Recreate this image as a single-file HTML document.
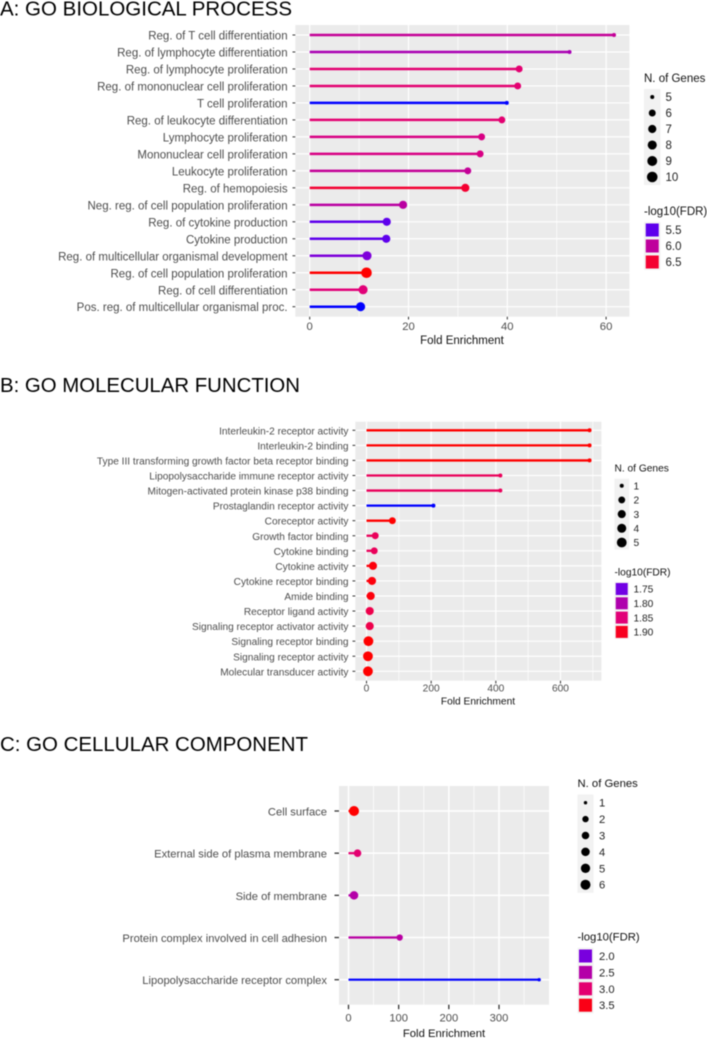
<!DOCTYPE html>
<html>
<head>
<meta charset="utf-8">
<title>GO enrichment lollipop charts</title>
<style>
html,body{margin:0;padding:0;background:#fff;}
body{width:707px;height:1039px;overflow:hidden;}
svg{display:block;filter:blur(0.45px);}
text{font-family:"Liberation Sans",sans-serif;}
</style>
</head>
<body>
<svg id="figure" width="707" height="1039" viewBox="0 0 707 1039" xmlns="http://www.w3.org/2000/svg">
<text x="0" y="15.5" font-size="20" fill="#000" textLength="292" lengthAdjust="spacingAndGlyphs">A: GO BIOLOGICAL PROCESS</text>
<text x="0" y="391.8" font-size="20" fill="#000" textLength="300" lengthAdjust="spacingAndGlyphs">B: GO MOLECULAR FUNCTION</text>
<text x="0" y="751" font-size="20" fill="#000" textLength="308" lengthAdjust="spacingAndGlyphs">C: GO CELLULAR COMPONENT</text>
</svg>
<script>
// Panel A data
const aCategories = ["Reg. of T cell differentiation","Reg. of lymphocyte differentiation","Reg. of lymphocyte proliferation","Reg. of mononuclear cell proliferation","T cell proliferation","Reg. of leukocyte differentiation","Lymphocyte proliferation","Mononuclear cell proliferation","Leukocyte proliferation","Reg. of hemopoiesis","Neg. reg. of cell population proliferation","Reg. of cytokine production","Cytokine production","Reg. of multicellular organismal development","Reg. of cell population proliferation","Reg. of cell differentiation","Pos. reg. of multicellular organismal proc."];
const aEnrichment = [61.6,52.6,42.4,42.1,39.9,38.9,34.8,34.5,32.0,31.5,18.9,15.6,15.5,11.6,11.5,10.8,10.3];
const aGenes = [5,5,6,6,5,6,6,6,6,7,7,7,7,8,10,8,8];
const aFdr = [6.03,5.85,6.25,6.25,5.3,6.25,6.15,6.15,6.03,6.5,5.97,5.5,5.5,5.62,6.65,6.22,5.3];
const aXTicks = [0,20,40,60];
const aXMinor = [10,30,50];
const aSizeLegend = [5,6,7,8,9,10];
const aColorLegend = ["5.5","6.0","6.5"];

// Panel B data
const bCategories = ["Interleukin-2 receptor activity","Interleukin-2 binding","Type III transforming growth factor beta receptor binding","Lipopolysaccharide immune receptor activity","Mitogen-activated protein kinase p38 binding","Prostaglandin receptor activity","Coreceptor activity","Growth factor binding","Cytokine binding","Cytokine activity","Cytokine receptor binding","Amide binding","Receptor ligand activity","Signaling receptor activator activity","Signaling receptor binding","Signaling receptor activity","Molecular transducer activity"];
const bEnrichment = [690,690,690,414,414,207,80,27,24,20,17,13,10,10,6,4.5,4.5];
const bGenes = [1,1,1,1,1,1,2,2,2,3,3,3,3,3,5,5,5];
const bFdr = [1.92,1.92,1.92,1.87,1.87,1.71,1.92,1.87,1.87,1.91,1.91,1.91,1.88,1.88,1.92,1.92,1.92];
const bXTicks = [0,200,400,600];
const bXMinor = [100,300,500,700];
const bSizeLegend = [1,2,3,4,5];
const bColorLegend = ["1.75","1.80","1.85","1.90"];

// Panel C data
const cCategories = ["Cell surface","External side of plasma membrane","Side of membrane","Protein complex involved in cell adhesion","Lipopolysaccharide receptor complex"];
const cEnrichment = [11,18,11,102,380];
const cGenes = [6,3,4,2,1];
const cFdr = [3.6,3.0,2.5,2.55,1.55];
const cXTicks = [0,100,200,300];
const cXMinor = [50,150,250,350];
const cSizeLegend = [1,2,3,4,5,6];
const cColorLegend = ["2.0","2.5","3.0","3.5"];

const NS = "http://www.w3.org/2000/svg";
const svg = document.getElementById("figure");
const rampColors = ["#0000ff","#6a00ea","#9a00c4","#bb00a0","#e0007c","#ee004a","#ff0000"];

function hexRgb(h){return [1,3,5].map(i=>parseInt(h.substr(i,2),16));}
function ramp(t){
  t=Math.max(0,Math.min(1,t));
  const p=t*(rampColors.length-1),i=Math.min(Math.floor(p),rampColors.length-2),f=p-i;
  const a=hexRgb(rampColors[i]),b=hexRgb(rampColors[i+1]);
  return "rgb("+a.map((v,k)=>Math.round(v+(b[k]-v)*f)).join(",")+")";
}
function add(parent,tag,attrs,txt){
  const e=document.createElementNS(NS,tag);
  for(const k in attrs)e.setAttribute(k,attrs[k]);
  if(txt!==undefined)e.textContent=txt;
  parent.appendChild(e);
  return e;
}
function slug(s){return s.toLowerCase().replace(/[^a-z0-9]+/g,"-").replace(/^-|-$/g,"");}

function drawPanel(cfg){
  const g=add(svg,"g",{});
  
  
  const x=v=>cfg.x0+v*cfg.xScale;
  const n=cfg.categories.length;
  const y=i=>cfg.rowTop+i*(cfg.rowBottom-cfg.rowTop)/(n-1);
  const col=v=>ramp((v-cfg.fdrMin)/(cfg.fdrMax-cfg.fdrMin));
  const gMin=cfg.sizeLegend[0],gMax=cfg.sizeLegend[cfg.sizeLegend.length-1];
  const rad=v=>cfg.rMin+(cfg.rMax-cfg.rMin)*Math.sqrt((v-gMin)/(gMax-gMin));

  const bg=add(g,"rect",{x:cfg.left,y:cfg.top,width:cfg.right-cfg.left,height:cfg.bottom-cfg.top,fill:"#ebebeb"});
  
  

  cfg.xMinor.forEach(v=>{
    const l=add(g,"line",{x1:x(v),x2:x(v),y1:cfg.top,y2:cfg.bottom,stroke:"#fff","stroke-width":0.7});
    
    
  });
  cfg.xTicks.forEach(v=>{
    const l=add(g,"line",{x1:x(v),x2:x(v),y1:cfg.top,y2:cfg.bottom,stroke:"#fff","stroke-width":cfg.grid});
    
    
    const t=add(g,"line",{x1:x(v),x2:x(v),y1:cfg.bottom,y2:cfg.bottom+cfg.tickLen,stroke:"#333","stroke-width":cfg.tickW});
    
    
    const lab=add(g,"text",{x:x(v),y:cfg.tickY,"text-anchor":"middle","font-size":cfg.tickFont,fill:"#4d4d4d"},String(v));
    
    
  });
  cfg.categories.forEach((c,i)=>{
    const gl=add(g,"line",{x1:cfg.left,x2:cfg.right,y1:y(i),y2:y(i),stroke:"#fff","stroke-width":cfg.grid});
    
    
    const t=add(g,"line",{x1:cfg.left-cfg.tickLen,x2:cfg.left,y1:y(i),y2:y(i),stroke:"#333","stroke-width":cfg.tickW});
    
    
    const lab=add(g,"text",{x:cfg.labelRight,y:y(i)+cfg.labelFont*0.36+0.4,"text-anchor":"end","font-size":cfg.labelFont,fill:"#4d4d4d"},c);
    
    
  });
  cfg.categories.forEach((c,i)=>{
    const color=col(cfg.fdr[i]);
    const stem=add(g,"line",{x1:x(0),x2:x(cfg.values[i]),y1:y(i),y2:y(i),stroke:color,"stroke-width":cfg.stem});
    
    
    const dot=add(g,"circle",{cx:x(cfg.values[i]),cy:y(i),r:rad(cfg.genes[i]),fill:color});
    
    
  });

  const axisTitle=add(g,"text",{x:cfg.axisTitleX,y:cfg.axisTitleY,"text-anchor":"middle","font-size":cfg.axisFont,fill:"#111"},"Fold Enrichment");
  
  

  // Size legend
  const L=cfg.legend;
  const st=add(g,"text",{x:L.x,y:L.sizeTitleY,"font-size":cfg.axisFont,fill:"#111"},"N. of Genes");
  
  
  const sizeStep=L.sizeStep;
  const sb=add(g,"rect",{x:L.x,y:L.sizeY-sizeStep/2,width:L.key,height:sizeStep*cfg.sizeLegend.length,fill:"#f2f2f2"});
  
  
  cfg.sizeLegend.forEach((v,i)=>{
    const cy=L.sizeY+i*sizeStep;
    const d=add(g,"circle",{cx:L.x+L.key/2,cy:cy,r:rad(v),fill:"#000"});
    
    
    const t=add(g,"text",{x:L.labelX,y:cy+cfg.legendFont*0.36,"font-size":cfg.legendFont,fill:"#222"},String(v));
    
    
  });

  // Colour legend
  const ct=add(g,"text",{x:L.x,y:L.colorTitleY,"font-size":cfg.axisFont,fill:"#111"},"-log10(FDR)");
  
  
  const colorStep=L.colorStep;
  const cb=add(g,"rect",{x:L.x,y:L.colorY-colorStep/2,width:L.key,height:colorStep*cfg.colorLegend.length,fill:"#f2f2f2"});
  
  
  cfg.colorLegend.forEach((v,i)=>{
    const cy=L.colorY+i*colorStep;
    const s=L.swatch;
    const r=add(g,"rect",{x:L.x+L.key/2-s/2,y:cy-s/2,width:s,height:s,fill:col(parseFloat(v))});
    
    
    const t=add(g,"text",{x:L.labelX,y:cy+cfg.legendFont*0.36,"font-size":cfg.legendFont,fill:"#222"},v);
    
    
  });
}

drawPanel({id:"panel-a",categories:aCategories,values:aEnrichment,genes:aGenes,fdr:aFdr,xTicks:aXTicks,xMinor:aXMinor,sizeLegend:aSizeLegend,colorLegend:aColorLegend,
  left:295.3,right:629.4,top:25,bottom:316.7,rowTop:35,rowBottom:306.7,x0:309.7,xScale:4.94,fdrMin:5.3,fdrMax:6.65,rMin:2,rMax:5.3,stem:2.5,grid:1.2,tickLen:2.8,tickW:1,labelRight:287.6,
  labelFont:11.5,tickFont:11.3,axisFont:11.5,legendFont:11.5,tickY:330,axisTitleX:462,axisTitleY:344,
  legend:{x:644,key:16.5,labelX:665.5,sizeTitleY:82,sizeY:97,sizeStep:16,colorTitleY:215,colorY:230,colorStep:16,swatch:13}});
drawPanel({id:"panel-b",categories:bCategories,values:bEnrichment,genes:bGenes,fdr:bFdr,xTicks:bXTicks,xMinor:bXMinor,sizeLegend:bSizeLegend,colorLegend:bColorLegend,
  left:355.3,right:601.4,top:421.7,bottom:680.7,rowTop:430.3,rowBottom:671.3,x0:366.5,xScale:0.3233,fdrMin:1.71,fdrMax:1.915,rMin:2,rMax:4.9,stem:2.3,grid:1.2,tickLen:2.8,tickW:1,labelRight:348.5,
  labelFont:10.15,tickFont:10.2,axisFont:10.2,legendFont:10.2,tickY:691.5,axisTitleX:478,axisTitleY:704.3,
  legend:{x:614.5,key:14.5,labelX:633.5,sizeTitleY:471.5,sizeY:485.7,sizeStep:14.2,colorTitleY:575.5,colorY:589,colorStep:14.3,swatch:12}});
drawPanel({id:"panel-c",categories:cCategories,values:cEnrichment,genes:cGenes,fdr:cFdr,xTicks:cXTicks,xMinor:cXMinor,sizeLegend:cSizeLegend,colorLegend:cColorLegend,
  left:339,right:549,top:786,bottom:1004.7,rowTop:811,rowBottom:979.7,x0:348.5,xScale:0.5017,fdrMin:1.55,fdrMax:3.6,rMin:1.7,rMax:5,stem:2.2,grid:1.5,tickLen:4.5,tickW:1.3,labelRight:327,
  labelFont:11.2,tickFont:11.2,axisFont:11.3,legendFont:11.2,tickY:1021.5,axisTitleX:444,axisTitleY:1037,
  legend:{x:577.5,key:16,labelX:599,sizeTitleY:787,sizeY:802.7,sizeStep:16.4,colorTitleY:940.5,colorY:956,colorStep:16.4,swatch:13}});
</script>
</body>
</html>
